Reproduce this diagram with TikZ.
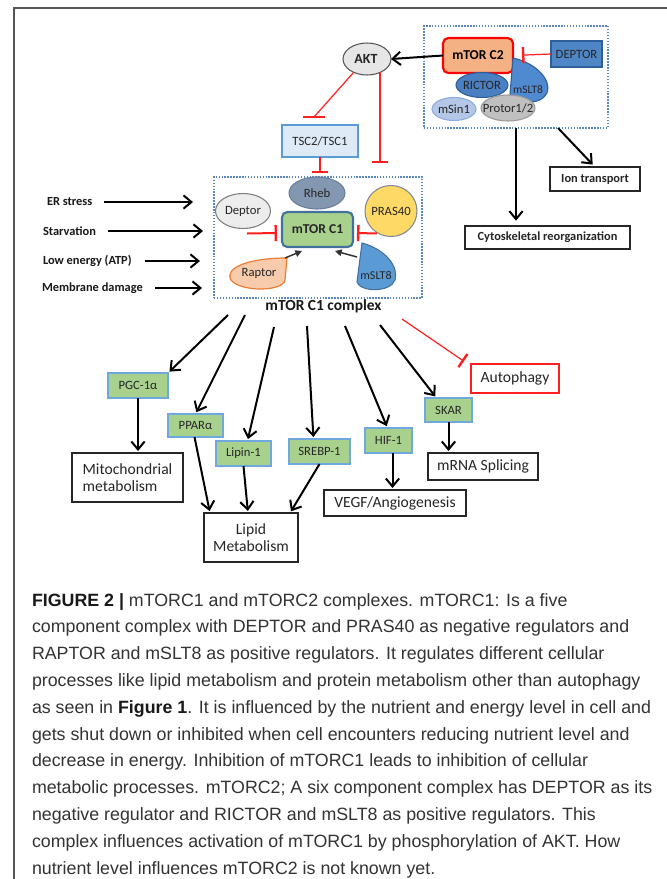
\documentclass[tikz,border=0pt]{standalone}
\usepackage{fontspec}
\setmainfont{Liberation Sans}
\newfontfamily\carl{Carlito}
\usetikzlibrary{arrows.meta,calc,shapes.geometric}
\definecolor{framegray}{HTML}{555555}
\definecolor{dotblue}{HTML}{5B87C0}
\definecolor{ctwoorange}{HTML}{F4B183}
\definecolor{depblue}{HTML}{4F86C6}
\definecolor{depblueb}{HTML}{2E5F99}
\definecolor{rictorblue}{HTML}{4A7FC1}
\definecolor{msltblue}{HTML}{4F8AD0}
\definecolor{msinblue}{HTML}{B4C7E7}
\definecolor{msinb}{HTML}{8FAADC}
\definecolor{protorgray}{HTML}{C0C0C0}
\definecolor{protorb}{HTML}{999999}
\definecolor{aktgray}{HTML}{E7E6E6}
\definecolor{aktb}{HTML}{595959}
\definecolor{tscfill}{HTML}{DEEBF7}
\definecolor{tscb}{HTML}{5B9BD5}
\definecolor{rhebfill}{HTML}{8497B0}
\definecolor{rhebb}{HTML}{6A7F9B}
\definecolor{conegreen}{HTML}{A9D18E}
\definecolor{coneb}{HTML}{41719C}
\definecolor{depfill}{HTML}{EDEDED}
\definecolor{depb}{HTML}{7F7F7F}
\definecolor{prasfill}{HTML}{FFD966}
\definecolor{prasb}{HTML}{7F8A99}
\definecolor{raptorfill}{HTML}{F8CBAD}
\definecolor{raptorb}{HTML}{ED7D31}
\definecolor{msltc}{HTML}{5B9BD5}
\definecolor{greenb}{HTML}{6FA8DC}
\definecolor{inhred}{HTML}{FF1F1F}
\definecolor{captext}{HTML}{333333}
\newcommand\lblfont{\carl\fontsize{9.5}{11}\selectfont}
\newcommand\boldlblfont{\carl\bfseries\fontsize{10.2}{12}\selectfont}
\newcommand\inlblfont{\carl\bfseries\fontsize{9.3}{11}\selectfont}
\newcommand\outfont{\carl\fontsize{11.7}{13.2}\selectfont}
\newcommand\capfont{\fontsize{13.35}{16}\selectfont}
\tikzset{
  every node/.style={inner sep=0pt, outer sep=0pt},
  sz/.style 2 args={minimum width=#1*0.75pt, minimum height=#2*0.75pt},
  lbl/.style={font=\lblfont, text=black!85},
  dotbox/.style={draw=dotblue, line width=1.1pt, dash pattern=on 1.1pt off 1.1pt},
  ell/.style={ellipse, line width=0.8pt, label={[lbl]center:#1}},
  rectbox/.style={rectangle, line width=0.8pt, font=\lblfont, text=black!85},
  greenbox/.style={rectangle, fill=conegreen, draw=greenb, line width=1pt, font=\lblfont, text=black!85},
  outbox/.style={rectangle, draw=black!85, line width=1pt, fill=white, font=\outfont, text=black!85},
  arr/.style={draw=black, line width=1.5pt, shorten >=1.5pt, -{Straight Barb[length=6pt,width=10pt]}},
  smallarr/.style={draw=black!80, line width=1.1pt, -{Triangle[length=5pt,width=5pt]}},
  inh/.style={draw=inhred, line width=0.9pt, -{Bar[width=12pt,line width=1.8pt]}},
  inhline/.style={draw=inhred, line width=0.9pt},
  inhbar/.style={draw=inhred, line width=1.8pt},
  inlbl/.style={font=\inlblfont, text=black!90, anchor=west},
  captionline/.style={font=\capfont, text=captext, anchor=base west},
}
\begin{document}
\begin{tikzpicture}[x=0.75pt,y=-0.75pt]
\useasboundingbox (0,0) rectangle (667,879);
\fill[white] (0,0) rectangle (667,879);
% frame
\draw[framegray, line width=1.1pt] (14,879) -- (14,8) -- (667,8);

% ---------- mTOR C2 complex ----------
\node[dotbox, sz={184}{102}] (c2box) at (516,77) {};
\node[rectangle, rounded corners=4pt, draw=red, line width=1.6pt, fill=ctwoorange, sz={70}{35}, font=\boldlblfont] (mtorc2) at (478,55.5) {mTOR C2};
\node[rectbox, fill=depblue, draw=depblueb, sz={51}{26}] (deptor2) at (576.5,54) {DEPTOR};
\node[ell=RICTOR, fill=rictorblue, draw=depblueb, sz={52}{25}] (rictor) at (482,85) {};
\filldraw[fill=msltblue, draw=depblueb, line width=0.8pt]
  (513,58) -- (510,94) .. controls (512,105) and (541,106) .. (547,93) .. controls (552,80) and (536,63) .. (513,58) -- cycle;
\node[lbl, font=\carl\fontsize{8.6}{10}\selectfont] (msltb) at (528,90) {mSLT8};
\node[ell=mSin1, fill=msinblue, draw=msinb, sz={44}{23}] (msin1) at (454,109) {};
\node[ell=Protor1/2, fill=protorgray, draw=protorb, sz={54}{26}] (protor) at (508,108) {};

% AKT
\node[ellipse, line width=0.8pt, fill=aktgray, draw=aktb, sz={48}{32}] (akt) at (367,59) {};
\node[font=\carl\bfseries\fontsize{10.5}{12}\selectfont, text=black!85] (aktlbl) at (366,59) {AKT};

% TSC
\node[rectbox, fill=tscfill, draw=tscb, sz={76}{32}] (tsc) at (320,141) {TSC2/TSC1};

% ---------- mTOR C1 complex ----------
\node[dotbox, sz={208}{121}] (c1box) at (318,237.5) {};
\node[ell=Rheb, fill=rhebfill, draw=rhebb, sz={56}{32}] (rheb) at (317,193) {};
\node[rectangle, rounded corners=4pt, draw=coneb, line width=1.6pt, fill=conegreen, sz={71}{35}, font=\boldlblfont, text=black!85] (mtorc1) at (317.5,229.5) {mTOR C1};
\node[ell=Deptor, fill=depfill, draw=depb, sz={55}{35}] (deptor1) at (243,211) {};
\node[ell=PRAS40, fill=prasfill, draw=prasb, sz={52}{51}] (pras40) at (391,211) {};
\filldraw[fill=raptorfill, draw=raptorb, line width=0.9pt]
  (287,258) -- (285,280) .. controls (283,292) and (240,292) .. (231,280) .. controls (224,268) and (248,258) .. (287,258) -- cycle;
\node[lbl] (raptor) at (259,273) {Raptor};
\filldraw[fill=msltc, draw=coneb, line width=0.8pt]
  (362,243) -- (357,282) .. controls (360,292) and (390,293) .. (395,280) .. controls (399,263) and (381,248) .. (362,243) -- cycle;
\node[lbl, font=\carl\fontsize{9}{10}\selectfont] (msltc) at (376,275) {mSLT8};
\node[font=\carl\bfseries\fontsize{11.6}{13}\selectfont, text=black!90] (c1lbl) at (323.5,306) {mTOR C1 complex};

% arrows inside complexes
\draw[inh, shorten >=6.75pt] (deptor2.west) -- (mtorc2.east);
\draw[arr, shorten >=0pt] (mtorc2.west) -- (akt.east);
\draw[smallarr] ($(raptor)+(26,-15)$) -- ($(mtorc1.south)+(-15.5,4)$);
\draw[smallarr] ($(msltc)+(-19,-18)$) -- ($(mtorc1.south)+(17.5,4)$);
\draw[inh, line width=1.5pt] ($(deptor1.south)+(4,5)$) -- ($(mtorc1.west)+(-5,3.5)$);
\draw[inh, line width=1.5pt] ($(pras40.south)+(-14,-3)$) -- ($(mtorc1.east)+(4,3.5)$);

% AKT / TSC inhibitions
\coordinate (tscbar) at (314,117);
\draw[inhline] (akt.-135) -- (tscbar);
\draw[inhbar] ($(tscbar)+(-11,0)$) -- ($(tscbar)+(11,0)$);
\coordinate (tscend) at (320,173);
\draw[inh] (tsc.south) -- (tsc.south |- tscend);
\coordinate (aktend) at (380,163);
\draw[inh] (akt.-46) -- (akt.-46 |- aktend);

% ---------- left inputs ----------
\node[inlbl] (er) at (47,202) {ER stress};
\node[inlbl] (starv) at (43,231) {Starvation};
\node[inlbl] (lowe) at (43,261) {Low energy (ATP)};
\node[inlbl] (memb) at (42,288) {Membrane damage};
\coordinate (erE) at (195,202);
\coordinate (starvE) at (205,231);
\coordinate (loweE) at (202,261);
\coordinate (membE) at (204,288);
\draw[arr] ($(er.east)+(12,0)$) -- (erE);
\draw[arr] ($(starv.east)+(12,0)$) -- (starvE);
\draw[arr] ($(lowe.east)+(13,0)$) -- (loweE);
\draw[arr] ($(memb.east)+(12,0)$) -- (membE);

% ---------- mTOR C2 outputs ----------
\node[outbox, font=\inlblfont, sz={90}{24}] (ion) at (595,179) {Ion transport};
\node[outbox, font=\inlblfont, sz={165}{23}] (cyto) at (547.5,237.5) {Cytoskeletal reorganization};
\draw[arr, shorten >=4pt] (c2box.south) -- (c2box.south |- cyto.north);
\draw[arr, shorten >=2.5pt] ($(c2box.south)+(42,0)$) -- (ion.north);

% ---------- mTOR C1 outputs ----------
\node[greenbox, sz={60}{25}] (pgc) at (138,385.5) {PGC-1α};
\node[greenbox, sz={55}{23}] (ppar) at (195.5,425.5) {PPARα};
\node[greenbox, sz={55}{25}] (lipin) at (243.5,453.5) {Lipin-1};
\node[greenbox, sz={61}{25}] (srebp) at (319.5,451.5) {SREBP-1};
\node[greenbox, sz={47}{25}] (hif) at (388.5,440.5) {HIF-1};
\node[greenbox, sz={47}{24}] (skar) at (448.5,410) {SKAR};

\node[outbox, sz={111}{49}, align=left] (mito) at (127.5,477.5) {Mitochondrial\\metabolism};
\node[outbox, sz={94}{49}, align=center] (lipid) at (251,537.5) {Lipid\\Metabolism};
\node[outbox, sz={142}{26}] (vegf) at (395,503) {VEGF/Angiogenesis};
\node[outbox, sz={110}{27}] (mrna) at (483,466.5) {mRNA Splicing};
\node[outbox, draw=inhred, sz={88}{29}] (auto) at (515,378.5) {Autophagy};

\coordinate (s1) at (228,315);
\coordinate (s2) at (245,315);
\coordinate (s3) at (274,327);
\coordinate (s4) at (307,326);
\coordinate (s5) at (345,326);
\coordinate (s6) at (380,325);
\coordinate (s7) at (402,319);
\draw[arr] (s1) -- (pgc.north east);
\draw[arr] (s2) -- (ppar.north);
\draw[arr] (s3) -- ($(lipin.north)+(4,0)$);
\draw[arr] (s4) -- ($(srebp.north)+(-6,0)$);
\draw[arr] (s5) -- ($(hif.north)+(-1,0)$);
\draw[arr] (s6) -- ($(skar.north)+(-12,0)$);
\draw[inh, shorten >=1pt] (s7) -- ($(auto.north west)+(-6,-2)$);

\draw[arr] (pgc.south) -- (pgc.south |- mito.north);
\draw[arr] ($(ppar.south)+(-1,0)$) -- ($(lipid.north west)+(6,0)$);
\draw[arr] (lipin.south) -- ($(lipid.north)+(-3,0)$);
\draw[arr] (srebp.south) -- ($(lipid.north east)+(-8,0)$);
\draw[arr] ($(hif.south)+(4,0)$) -- ($(hif.south |- vegf.north)+(4,0)$);
\draw[arr] (skar.south) -- (skar.south |- mrna.north);

% ---------- caption ----------
\node[captionline] (cap1) at (32,606) {\textcolor{black!90}{\textbf{FIGURE 2 |}} mTORC1 and mTORC2 complexes. mTORC1: Is a five};
\node[captionline] (cap2) at (32,632.8) {component complex with DEPTOR and PRAS40 as negative regulators and};
\node[captionline] (cap3) at (32,659.6) {RAPTOR and mSLT8 as positive regulators. It regulates different cellular};
\node[captionline] (cap4) at (32,686.4) {processes like lipid metabolism and protein metabolism other than autophagy};
\node[captionline] (cap5) at (32,713.2) {as seen in \textcolor{black!90}{\textbf{Figure 1}}. It is influenced by the nutrient and energy level in cell and};
\node[captionline] (cap6) at (32,740) {gets shut down or inhibited when cell encounters reducing nutrient level and};
\node[captionline] (cap7) at (32,766.8) {decrease in energy. Inhibition of mTORC1 leads to inhibition of cellular};
\node[captionline] (cap8) at (32,793.6) {metabolic processes. mTORC2; A six component complex has DEPTOR as its};
\node[captionline] (cap9) at (32,820.4) {negative regulator and RICTOR and mSLT8 as positive regulators. This};
\node[captionline] (cap10) at (32,847.2) {complex influences activation of mTORC1 by phosphorylation of AKT. How};
\node[captionline] (cap11) at (32,874) {nutrient level influences mTORC2 is not known yet.};
\end{tikzpicture}
\end{document}
